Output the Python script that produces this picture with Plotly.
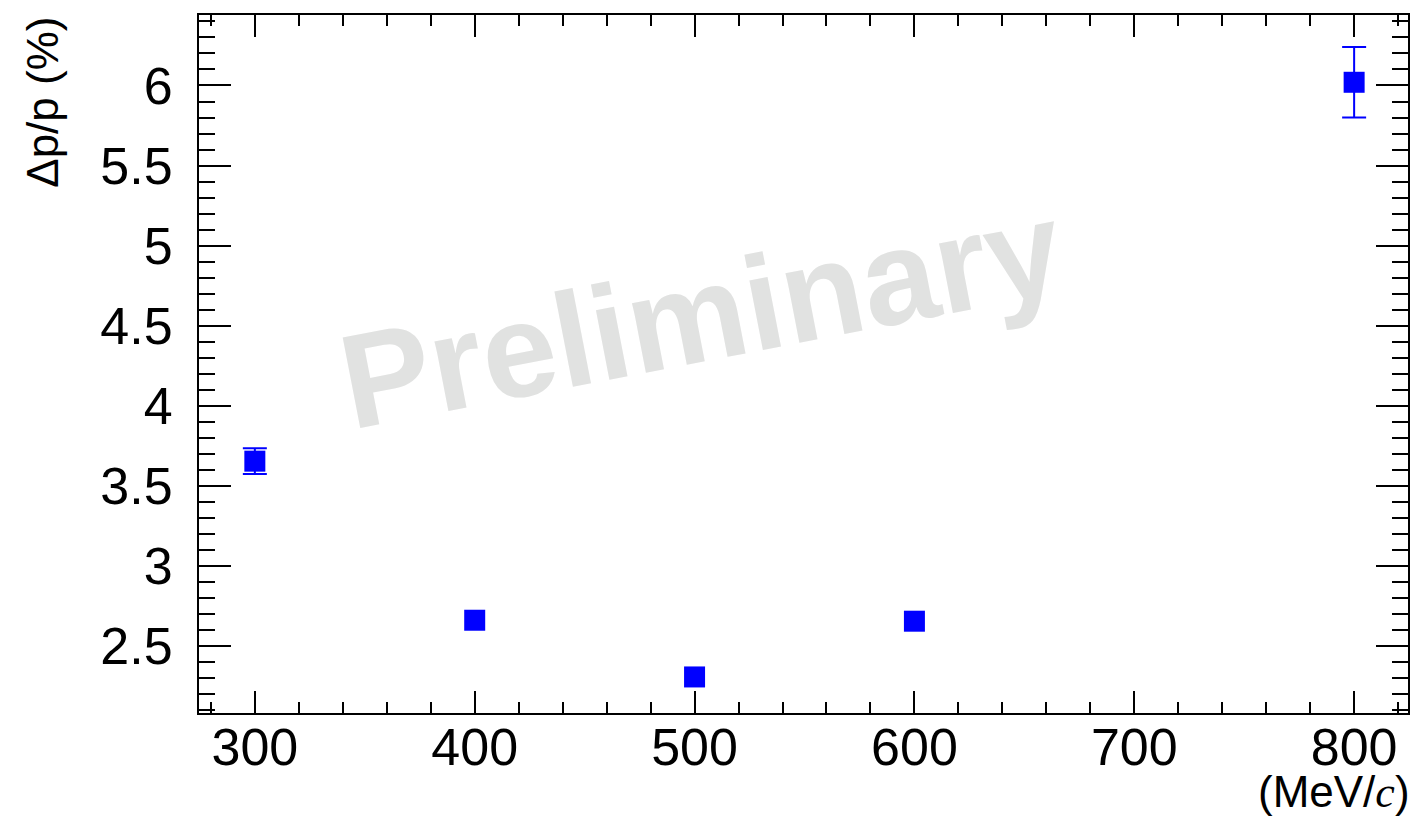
import plotly.graph_objects as go

# Data
momentum = [300, 400, 500, 600, 800]          # MeV/c
resolution = [3.655, 2.662, 2.308, 2.656, 6.02]  # Δp/p (%)
res_err = [0.08, 0.0, 0.0, 0.0, 0.22]

xtick_vals = [300, 400, 500, 600, 700, 800]
xtick_text = ["300", "400", "500", "600", "700", "800"]
ytick_vals = [2.5, 3, 3.5, 4, 4.5, 5, 5.5, 6]
ytick_text = ["2.5", "3", "3.5", "4", "4.5", "5", "5.5", "6"]

W, H = 1416, 817
L, R, T, B = 199, 6, 15, 104
pw = W - L - R
ph = H - T - B

# points that carry a visible error bar
idx = [i for i, e in enumerate(res_err) if e > 0]

fig = go.Figure()
fig.add_trace(go.Scatter(
    x=[momentum[i] for i in idx], y=[resolution[i] for i in idx], mode="markers",
    marker=dict(size=1, opacity=0),
    error_y=dict(type="data", array=[res_err[i] for i in idx], visible=True,
                 color="#0000ff", thickness=2, width=12),
    showlegend=False, hoverinfo="skip",
))
fig.add_trace(go.Scatter(
    x=momentum, y=resolution, mode="markers",
    marker=dict(symbol="square", size=21, color="#0000ff", line=dict(width=0)),
    showlegend=False,
))

tickfont = dict(family="Liberation Sans, Arial, Helvetica, sans-serif", size=52, color="black")

fig.update_layout(
    width=W, height=H,
    margin=dict(l=L, r=R, t=T, b=B, pad=0),
    paper_bgcolor="white", plot_bgcolor="white",
    font=dict(family="Liberation Sans, Arial, Helvetica, sans-serif", color="black"),
    xaxis=dict(
        range=[274.6, 824.5], showgrid=False, zeroline=False,
        showline=True, linecolor="black", linewidth=2, mirror="ticks",
        ticks="inside", ticklen=22, tickwidth=2, tickcolor="black",
        tickvals=xtick_vals, ticktext=xtick_text, tickfont=tickfont,
        ticklabelstandoff=-12,
        minor=dict(ticks="inside", ticklen=11, tickwidth=2, tickcolor="black",
                   dtick=20, tick0=0, showgrid=False),
    ),
    yaxis=dict(
        range=[2.083, 6.44], showgrid=False, zeroline=False,
        showline=True, linecolor="black", linewidth=2, mirror="ticks",
        ticks="inside", ticklen=32, tickwidth=2, tickcolor="black",
        tickvals=ytick_vals, ticktext=ytick_text, tickfont=tickfont,
        ticklabelstandoff=14,
        minor=dict(ticks="inside", ticklen=16, tickwidth=2, tickcolor="black",
                   dtick=0.1, tick0=0, showgrid=False),
    ),
)

# Watermark
fig.add_annotation(
    x=503, y=4.57, xref="x", yref="y", text="<b>Preliminary</b>",
    showarrow=False, textangle=-11,
    font=dict(family="Liberation Sans, Arial, sans-serif", size=134, color="#e1e2e1"),
    xanchor="center", yanchor="middle",
)

# Y title
fig.add_annotation(
    x=(42 - L) / pw, y=1.0, xref="paper", yref="paper",
    text="Δp/p (%)", showarrow=False, textangle=-90,
    font=dict(family="Liberation Sans, Arial, sans-serif", size=44, color="black"),
    xanchor="center", yanchor="top",
)

# X title
fig.add_annotation(
    x=(1414 - L) / pw, y=(T + ph - 792) / ph, xref="paper", yref="paper",
    text="(MeV/<span style='font-family:Liberation Serif, Times New Roman, serif;font-style:italic'>c</span>)",
    showarrow=False,
    font=dict(family="Liberation Sans, Arial, sans-serif", size=44, color="black"),
    xanchor="right", yanchor="middle",
)

fig.write_html("out.html")
